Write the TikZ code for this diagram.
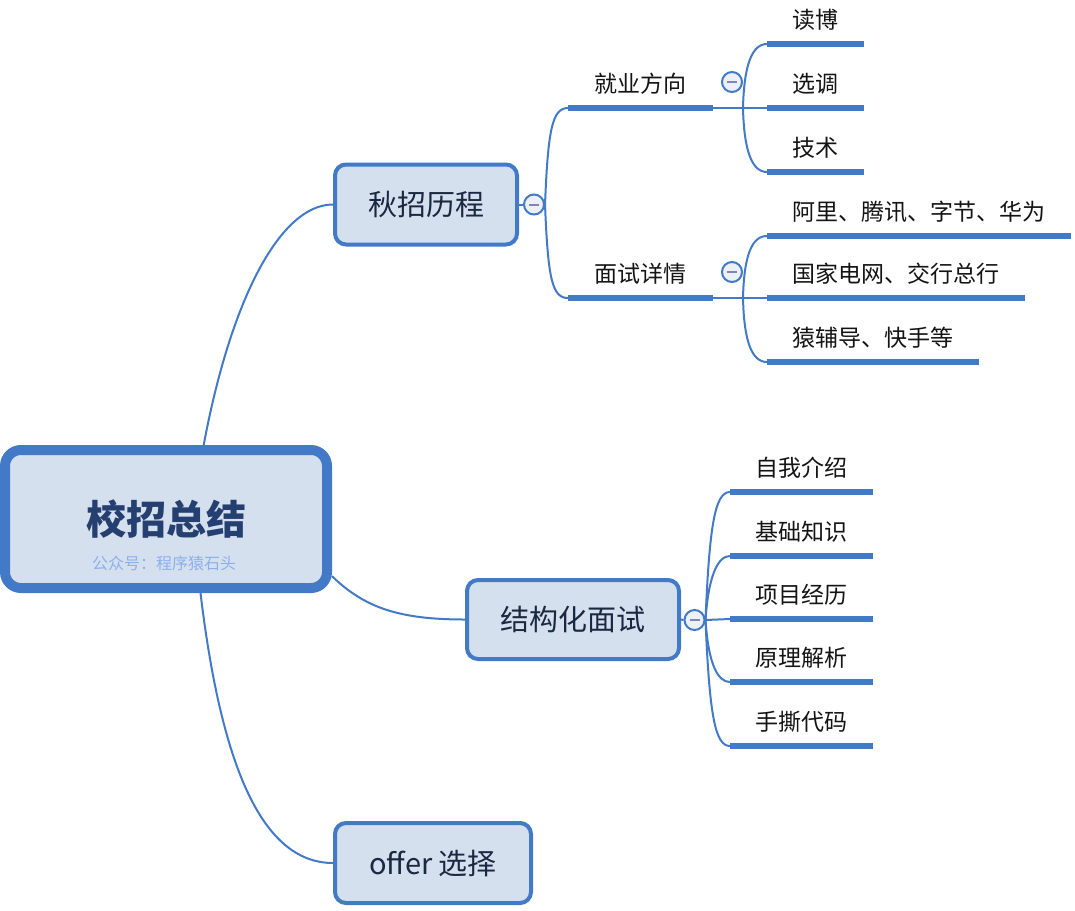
\documentclass[tikz,border=0pt]{standalone}
\usepackage{fontspec}
\newfontfamily\cjk{Noto Sans CJK SC}
\usetikzlibrary{calc,backgrounds}
\definecolor{mblue}{RGB}{66,122,200}
\definecolor{mfill}{RGB}{213,224,238}
\definecolor{mnavy}{RGB}{26,40,66}
\definecolor{mtitle}{RGB}{37,64,112}
\definecolor{msub}{RGB}{140,175,235}
\definecolor{mcirc}{RGB}{238,240,248}
\definecolor{mminus}{RGB}{125,133,185}
\definecolor{mtext}{RGB}{20,20,20}
\begin{document}
\begin{tikzpicture}[x=1pt,y=-1pt,
  every node/.style={font=\cjk},
  rootbox/.style={draw=mblue, line width=10pt, fill=mfill, rounded corners=16pt,
    minimum width=322pt, minimum height=138pt, inner sep=0pt,
    font=\cjk\bfseries\fontsize{40}{48}\selectfont, text=mtitle,
    text height=35.2pt, text depth=4.8pt},
  subtext/.style={font=\cjk\fontsize{16}{19}\selectfont, text=msub, inner sep=0pt},
  mainbox/.style={draw=mblue, line width=4pt, fill=mfill, rounded corners=11pt,
    inner sep=0pt, font=\cjk\fontsize{29}{34}\selectfont, text=mnavy,
    text height=25.5pt, text depth=3.5pt},
  fold/.style={circle, draw=mblue, line width=2pt, fill=mcirc, minimum size=20pt,
    inner sep=0pt,
    path picture={\draw[mminus, line width=2pt]
      ([xshift=-5pt]path picture bounding box.center) --
      ([xshift=5pt]path picture bounding box.center);}},
  branch/.style={anchor=south west, inner xsep=26.5pt, inner ysep=15.3pt,
    outer sep=0pt, text height=20pt, text depth=0pt,
    font=\cjk\fontsize{23}{28}\selectfont, text=mtext},
  leaf/.style={branch, inner xsep=25.5pt},
  uline/.style={draw=mblue, line width=5.5pt},
  conn/.style={draw=mblue, line width=2pt}
]
\useasboundingbox (0,0) rectangle (1075,910);

% root
\node[rootbox] (root) at (166,519) {校招总结};
\node[subtext] (sub) at (164,563) {公众号：程序猿石头};

% main branches
\node[mainbox, minimum width=182pt, minimum height=80pt] (qiu) at (426,204.5) {秋招历程};
\node[mainbox, minimum width=212pt, minimum height=79pt] (jie) at (573,619.5) {结构化面试};
\node[mainbox, minimum width=196pt, minimum height=80pt] (offer) at (433,863) {offer 选择};

% fold markers
\node[fold] (c1) at (534,204.5) {};
\node[fold] (c2) at (694.5,620) {};
\node[fold] (c3) at (732,82) {};
\node[fold] (c4) at (732,272) {};

% sub branches
\node[branch] (jy) at (568,108) {就业方向};
\node[branch] (ms) at (568,298) {面试详情};

% leaves
\node[leaf] (a1) at (767,44) {读博};
\node[leaf] (a2) at (767,108) {选调};
\node[leaf] (a3) at (767,172) {技术};
\node[leaf] (b1) at (767,236) {阿里、腾讯、字节、华为};
\node[leaf] (b2) at (767,298) {国家电网、交行总行};
\node[leaf] (b3) at (767,362) {猿辅导、快手等};
\node[leaf] (d1) at (730,492) {自我介绍};
\node[leaf] (d2) at (730,556) {基础知识};
\node[leaf] (d3) at (730,619) {项目经历};
\node[leaf] (d4) at (730,682) {原理解析};
\node[leaf] (d5) at (730,746) {手撕代码};

\foreach \n in {jy,ms,a1,a2,a3,b1,b2,b3,d1,d2,d3,d4,d5}
  \draw[uline] (\n.south west) -- (\n.south east);

\begin{scope}[on background layer]
\fill[white] (0,0) rectangle (1075,910);
% root connectors
\draw[conn] (root.63) .. controls +(27,-145) and +(-53,0) .. (qiu.west);
\draw[conn] (root.-19) .. controls +(33,32) and +(-65,0) .. (jie.west);
\draw[conn] (root.-65) .. controls +(20,167) and +(-73,0) .. (offer.west);
% qiu group
\draw[conn] (qiu.east) -- (c1.west);
\draw[conn] (c1.east) .. controls +(3,-74) and +(-16,0) .. (jy.south west);
\draw[conn] (c1.east) .. controls +(3,74) and +(-16,0) .. (ms.south west);
% jy group
\draw[conn] (jy.south east) -- (a2.south west);
\draw[conn] ($(jy.south east)+(30,0)$) .. controls +(1,-43) and +(-15,0) .. (a1.south west);
\draw[conn] ($(jy.south east)+(30,0)$) .. controls +(1,43) and +(-15,0) .. (a3.south west);
% ms group
\draw[conn] (ms.south east) -- (b2.south west);
\draw[conn] ($(ms.south east)+(30,0)$) .. controls +(1,-43) and +(-15,0) .. (b1.south west);
\draw[conn] ($(ms.south east)+(30,0)$) .. controls +(1,44) and +(-15,0) .. (b3.south west);
% jie group
\draw[conn] (jie.east) -- (c2.west);
\draw[conn] (c2.east) -- (d3.south west);
\draw[conn] (c2.east) .. controls +(4,-95) and +(-15,0) .. (d1.south west);
\draw[conn] (c2.east) .. controls +(3,-45) and +(-12,0) .. (d2.south west);
\draw[conn] (c2.east) .. controls +(3,45) and +(-12,0) .. (d4.south west);
\draw[conn] (c2.east) .. controls +(4,95) and +(-15,0) .. (d5.south west);
\end{scope}
\end{tikzpicture}
\end{document}
